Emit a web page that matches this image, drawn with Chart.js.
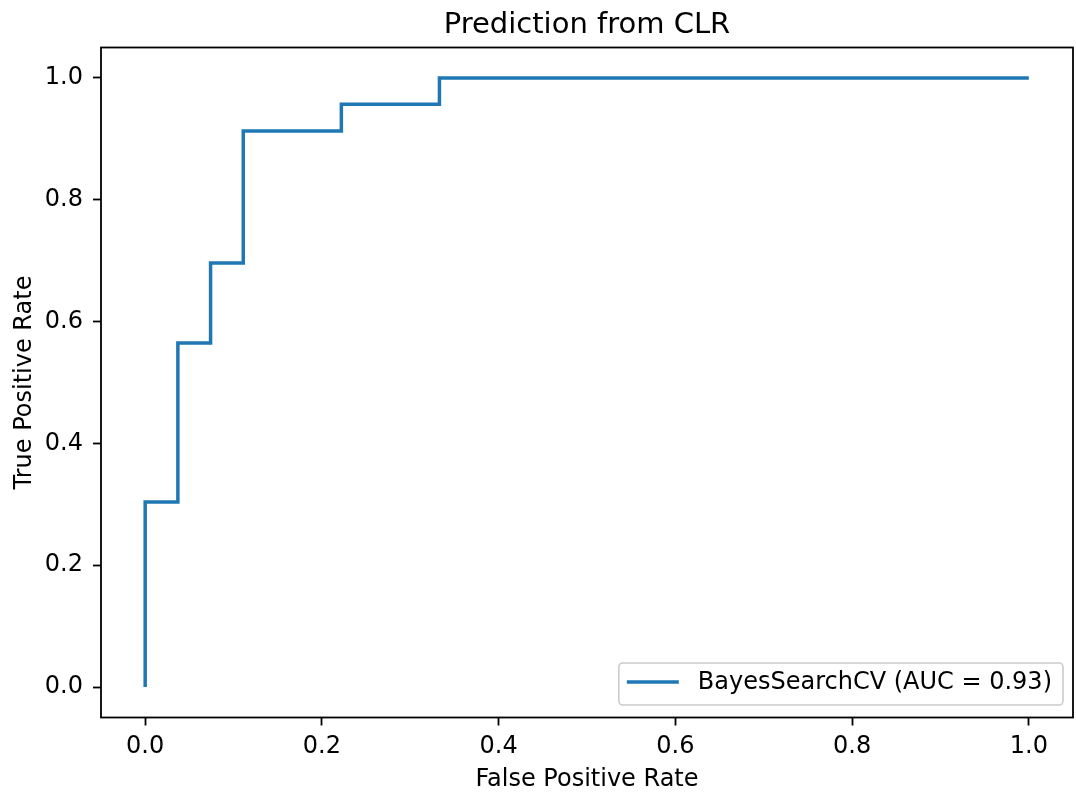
<!DOCTYPE html>
<html>
<head>
<meta charset="utf-8">
<script src="https://cdn.jsdelivr.net/npm/chart.js@4/dist/chart.umd.min.js"></script>
<style>
  html, body { margin: 0; padding: 0; background: #fff; }
  #wrap { width: 1076px; height: 794px; }
</style>
</head>
<body>
<div id="wrap"><canvas id="roc" width="1076" height="794"></canvas></div>
<script>
// ROC curve points (false positive rate, true positive rate)
var fpr = [0, 0, 0.037, 0.037, 0.074, 0.074, 0.111, 0.111, 0.222, 0.222, 0.333, 0.333, 1.0];
var tpr = [0, 0.304, 0.304, 0.565, 0.565, 0.696, 0.696, 0.913, 0.913, 0.957, 0.957, 1.0, 1.0];
var tickValues = [0, 0.2, 0.4, 0.6, 0.8, 1.0];
var seriesLabel = 'BayesSearchCV (AUC = 0.93)';
var chartTitle = 'Prediction from CLR';

var points = fpr.map(function (x, i) { return { x: x, y: tpr[i] }; });

var FONT = "'DejaVu Sans', sans-serif";
Chart.defaults.font.family = FONT;
Chart.defaults.color = '#000';

// frame around the plot area, matplotlib style
var framePlugin = {
  id: 'frame',
  afterDatasetsDraw: function (chart) {
    var a = chart.chartArea, c = chart.ctx;
    c.save();
    c.strokeStyle = '#000';
    c.lineWidth = 1.8;
    c.strokeRect(a.left, a.top, a.right - a.left, a.bottom - a.top);
    c.restore();
  }
};

// title centred over the plot area rather than the whole canvas
var axesTitlePlugin = {
  id: 'axesTitle',
  afterDraw: function (chart) {
    var a = chart.chartArea, c = chart.ctx;
    c.save();
    c.font = '29px ' + FONT;
    c.fillStyle = '#000';
    c.textAlign = 'center';
    c.textBaseline = 'alphabetic';
    c.fillText(chartTitle, (a.left + a.right) / 2, a.top - 14.5);
    c.restore();
  }
};

// legend box in the lower right corner of the plot
var legendPlugin = {
  id: 'cornerLegend',
  afterDraw: function (chart) {
    var a = chart.chartArea, c = chart.ctx;
    var ds = chart.data.datasets[0];
    c.save();
    c.font = '24px ' + FONT;
    var tw = c.measureText(ds.label).width;
    var w = 79 + tw + 11, h = 42;
    var x = a.right - 10 - w, y = a.bottom - 12.5 - h;
    c.beginPath();
    c.roundRect(x, y, w, h, 4);
    c.fillStyle = 'rgba(255,255,255,0.8)';
    c.fill();
    c.strokeStyle = '#cccccc';
    c.lineWidth = 1.6;
    c.stroke();
    c.beginPath();
    c.moveTo(x + 8, y + 19);
    c.lineTo(x + 60, y + 19);
    c.strokeStyle = ds.borderColor;
    c.lineWidth = ds.borderWidth;
    c.stroke();
    c.fillStyle = '#000';
    c.textBaseline = 'middle';
    c.fillText(ds.label, x + 79, y + 20);
    c.restore();
  }
};

function fixedTicks(scale) {
  scale.ticks = tickValues.map(function (v) { return { value: v }; });
}

new Chart(document.getElementById('roc'), {
  type: 'scatter',
  data: {
    datasets: [{
      label: seriesLabel,
      data: points,
      showLine: true,
      borderColor: '#1f77b4',
      backgroundColor: '#1f77b4',
      borderWidth: 3.5,
      borderJoinStyle: 'miter',
      pointRadius: 0,
      tension: 0
    }]
  },
  options: {
    responsive: false,
    animation: false,
    layout: { padding: { left: 0, right: 3, top: 47.5, bottom: 0 } },
    plugins: {
      legend: { display: false },
      tooltip: { enabled: false },
      title: { display: false }
    },
    scales: {
      x: {
        type: 'linear',
        min: -0.05,
        max: 1.05,
        afterBuildTicks: fixedTicks,
        afterFit: function (s) { s.height = 76.5; },
        grid: { drawOnChartArea: false, drawTicks: true, tickLength: 8, tickWidth: 1.8, tickColor: '#000' },
        border: { display: false },
        ticks: {
          font: { size: 24 },
          padding: 7,
          maxRotation: 0,
          callback: function (v) { return v.toFixed(1); }
        },
        title: { display: true, text: 'False Positive Rate', font: { size: 24 }, padding: { top: 1, bottom: 0 } }
      },
      y: {
        type: 'linear',
        min: -0.05,
        max: 1.05,
        afterBuildTicks: fixedTicks,
        afterFit: function (s) { s.width = 101; },
        grid: { drawOnChartArea: false, drawTicks: true, tickLength: 8, tickWidth: 1.8, tickColor: '#000' },
        border: { display: false },
        ticks: {
          font: { size: 24 },
          padding: 10,
          callback: function (v) { return v.toFixed(1); }
        },
        title: { display: true, text: 'True Positive Rate', font: { size: 24 }, padding: { top: 10, bottom: 0 } }
      }
    }
  },
  plugins: [framePlugin, axesTitlePlugin, legendPlugin]
});
</script>
</body>
</html>
